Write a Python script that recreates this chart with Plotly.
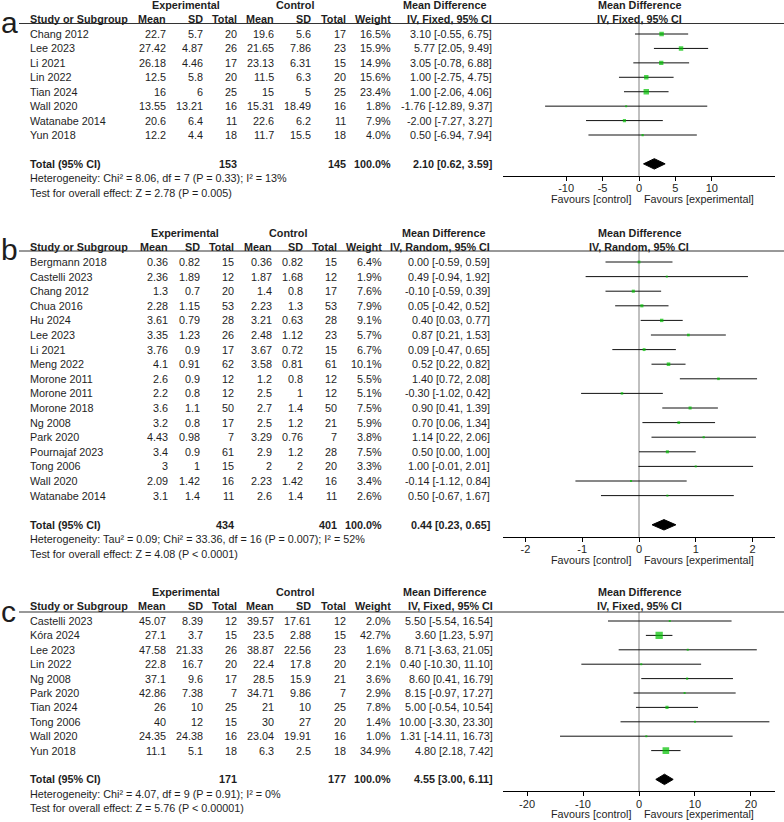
import plotly.graph_objects as go

W, H = 784, 822
FONT = "Liberation Sans, Arial, sans-serif"
TXT = "#1e1e1e"
GREEN = "#00c000"
FS = 10.8

# ---------------- Panel a (IV, Fixed) ----------------
a_study = ["Chang 2012", "Lee 2023", "Li 2021", "Lin 2022", "Tian 2024", "Wall 2020", "Watanabe 2014", "Yun 2018"]
a_exp_mean = [22.7, 27.42, 26.18, 12.5, 16, 13.55, 20.6, 12.2]
a_exp_sd = [5.7, 4.87, 4.46, 5.8, 6, 13.21, 6.4, 4.4]
a_exp_n = [20, 26, 17, 20, 25, 16, 11, 18]
a_ctl_mean = [19.6, 21.65, 23.13, 11.5, 15, 15.31, 22.6, 11.7]
a_ctl_sd = [5.6, 7.86, 6.31, 6.3, 5, 18.49, 6.2, 15.5]
a_ctl_n = [17, 23, 15, 20, 25, 16, 11, 18]
a_weight = [16.5, 15.9, 14.9, 15.6, 23.4, 1.8, 7.9, 4.0]
a_md = [3.10, 5.77, 3.05, 1.00, 1.00, -1.76, -2.00, 0.50]
a_lo = [-0.55, 2.05, -0.78, -2.75, -2.06, -12.89, -7.27, -6.94]
a_hi = [6.75, 9.49, 6.88, 4.75, 4.06, 9.37, 3.27, 7.94]
a_total = [153, 145, 2.10, 0.62, 3.59]
a_het = "Heterogeneity: Chi² = 8.06, df = 7 (P = 0.33); I² = 13%"
a_test = "Test for overall effect: Z = 2.78 (P = 0.005)"
a_method = "IV, Fixed, 95% CI"
a_ticks = [-10, -5, 0, 5, 10]

# ---------------- Panel b (IV, Random) ----------------
b_study = ["Bergmann 2018", "Castelli 2023", "Chang 2012", "Chua 2016", "Hu 2024", "Lee 2023", "Li 2021",
           "Meng 2022", "Morone 2011", "Morone 2011", "Morone 2018", "Ng 2008", "Park 2020",
           "Pournajaf 2023", "Tong 2006", "Wall 2020", "Watanabe 2014"]
b_exp_mean = [0.36, 2.36, 1.3, 2.28, 3.61, 3.35, 3.76, 4.1, 2.6, 2.2, 3.6, 3.2, 4.43, 3.4, 3, 2.09, 3.1]
b_exp_sd = [0.82, 1.89, 0.7, 1.15, 0.79, 1.23, 0.9, 0.91, 0.9, 0.8, 1.1, 0.8, 0.98, 0.9, 1, 1.42, 1.4]
b_exp_n = [15, 12, 20, 53, 28, 26, 17, 62, 12, 12, 50, 17, 7, 61, 15, 16, 11]
b_ctl_mean = [0.36, 1.87, 1.4, 2.23, 3.21, 2.48, 3.67, 3.58, 1.2, 2.5, 2.7, 2.5, 3.29, 2.9, 2, 2.23, 2.6]
b_ctl_sd = [0.82, 1.68, 0.8, 1.3, 0.63, 1.12, 0.72, 0.81, 0.8, 1, 1.4, 1.2, 0.76, 1.2, 2, 1.42, 1.4]
b_ctl_n = [15, 12, 17, 53, 28, 23, 15, 61, 12, 12, 50, 21, 7, 28, 20, 16, 11]
b_weight = [6.4, 1.9, 7.6, 7.9, 9.1, 5.7, 6.7, 10.1, 5.5, 5.1, 7.5, 5.9, 3.8, 7.5, 3.3, 3.4, 2.6]
b_md = [0.00, 0.49, -0.10, 0.05, 0.40, 0.87, 0.09, 0.52, 1.40, -0.30, 0.90, 0.70, 1.14, 0.50, 1.00, -0.14, 0.50]
b_lo = [-0.59, -0.94, -0.59, -0.42, 0.03, 0.21, -0.47, 0.22, 0.72, -1.02, 0.41, 0.06, 0.22, 0.00, -0.01, -1.12, -0.67]
b_hi = [0.59, 1.92, 0.39, 0.52, 0.77, 1.53, 0.65, 0.82, 2.08, 0.42, 1.39, 1.34, 2.06, 1.00, 2.01, 0.84, 1.67]
b_total = [434, 401, 0.44, 0.23, 0.65]
b_het = "Heterogeneity: Tau² = 0.09; Chi² = 33.36, df = 16 (P = 0.007); I² = 52%"
b_test = "Test for overall effect: Z = 4.08 (P < 0.0001)"
b_method = "IV, Random, 95% CI"
b_ticks = [-2, -1, 0, 1, 2]

# ---------------- Panel c (IV, Fixed) ----------------
c_study = ["Castelli 2023", "Kóra 2024", "Lee 2023", "Lin 2022", "Ng 2008", "Park 2020", "Tian 2024",
           "Tong 2006", "Wall 2020", "Yun 2018"]
c_exp_mean = [45.07, 27.1, 47.58, 22.8, 37.1, 42.86, 26, 40, 24.35, 11.1]
c_exp_sd = [8.39, 3.7, 21.33, 16.7, 9.6, 7.38, 10, 12, 24.38, 5.1]
c_exp_n = [12, 15, 26, 20, 17, 7, 25, 15, 16, 18]
c_ctl_mean = [39.57, 23.5, 38.87, 22.4, 28.5, 34.71, 21, 30, 23.04, 6.3]
c_ctl_sd = [17.61, 2.88, 22.56, 17.8, 15.9, 9.86, 10, 27, 19.91, 2.5]
c_ctl_n = [12, 15, 23, 20, 21, 7, 25, 20, 16, 18]
c_weight = [2.0, 42.7, 1.6, 2.1, 3.6, 2.9, 7.8, 1.4, 1.0, 34.9]
c_md = [5.50, 3.60, 8.71, 0.40, 8.60, 8.15, 5.00, 10.00, 1.31, 4.80]
c_lo = [-5.54, 1.23, -3.63, -10.30, 0.41, -0.97, -0.54, -3.30, -14.11, 2.18]
c_hi = [16.54, 5.97, 21.05, 11.10, 16.79, 17.27, 10.54, 23.30, 16.73, 7.42]
c_total = [171, 177, 4.55, 3.00, 6.11]
c_het = "Heterogeneity: Chi² = 4.07, df = 9 (P = 0.91); I² = 0%"
c_test = "Test for overall effect: Z = 5.76 (P < 0.00001)"
c_method = "IV, Fixed, 95% CI"
c_ticks = [-20, -10, 0, 10, 20]

panels = [
    dict(letter="a", study=a_study, em=a_exp_mean, es=a_exp_sd, en=a_exp_n, cm=a_ctl_mean, cs=a_ctl_sd,
         cn=a_ctl_n, w=a_weight, md=a_md, lo=a_lo, hi=a_hi, tot=a_total, het=a_het, test=a_test,
         method=a_method, ticks=a_ticks,
         r0=34, dy=14.43, rule=23.5, cols=[168, 205, 239, 276, 313, 348, 393], mdr=494,
         expc=186, ctlc=295, mdc=444, half=18.67),
    dict(letter="b", study=b_study, em=b_exp_mean, es=b_exp_sd, en=b_exp_n, cm=b_ctl_mean, cs=b_ctl_sd,
         cn=b_ctl_n, w=b_weight, md=b_md, lo=b_lo, hi=b_hi, tot=b_total, het=b_het, test=b_test,
         method=b_method, ticks=b_ticks,
         r0=262, dy=14.6, rule=251, cols=[170, 202, 236, 274, 305, 339, 384], mdr=492,
         expc=184.5, ctlc=288, mdc=443, half=2.396),
    dict(letter="c", study=c_study, em=c_exp_mean, es=c_exp_sd, en=c_exp_n, cm=c_ctl_mean, cs=c_ctl_sd,
         cn=c_ctl_n, w=c_weight, md=c_md, lo=c_lo, hi=c_hi, tot=c_total, het=c_het, test=c_test,
         method=c_method, ticks=c_ticks,
         r0=621, dy=14.4, rule=612, cols=[168, 205, 239, 276, 313, 348, 393], mdr=495,
         expc=186, ctlc=295, mdc=444, half=24.3),
]

PLOT_L, PLOT_R = 503, 775

fig = go.Figure()
annotations = []
shapes = []
layout_axes = {}


def py(px):
    return 1 - px / H


def ann(text, xpx, ypx, anchor="left", bold=False, size=FS, **kw):
    annotations.append(dict(
        text=f"<b>{text}</b>" if bold else text, x=xpx / W, y=py(ypx), xref="paper", yref="paper",
        xanchor=anchor, yanchor="middle", showarrow=False,
        font=dict(family=FONT, size=size, color=TXT), **kw))


def fmt(v):
    return f"{v:g}"


for k, p in enumerate(panels, start=1):
    sfx = "" if k == 1 else str(k)
    n = len(p["study"])
    r0, dy = p["r0"], p["dy"]
    rowpx = lambda r: r0 + r * dy
    total_px = rowpx(n + 1)
    axis_px = total_px + 12
    # headers
    ann("Experimental", p["expc"], rowpx(-2), "center", bold=True)
    ann("Control", p["ctlc"], rowpx(-2), "center", bold=True)
    ann("Mean Difference", p["mdc"], rowpx(-2), "center", bold=True)
    ann("Mean Difference", 639, rowpx(-2), "center", bold=True)
    hy = rowpx(-1.05)
    ann("Study or Subgroup", 28, hy, "left", bold=True)
    for txt, cx in zip(["Mean", "SD", "Total", "Mean", "SD", "Total", "Weight"], p["cols"]):
        ann(txt, cx, hy, "right", bold=True)
    ann(p["method"], p["mdr"], hy, "right", bold=True)
    ann(p["method"], 639, hy, "center", bold=True)
    ann(p["letter"], -1, p["rule"] - 1, "left", size=30)
    shapes.append(dict(type="line", xref="paper", yref="paper", x0=19 / W, x1=1,
                       y0=py(p["rule"]), y1=py(p["rule"]), line=dict(color="#333", width=1)))
    # rows
    for i in range(n):
        y = rowpx(i)
        ann(p["study"][i], 28, y, "left")
        vals = [fmt(p["em"][i]), fmt(p["es"][i]), str(p["en"][i]), fmt(p["cm"][i]), fmt(p["cs"][i]),
                str(p["cn"][i]), f"{p['w'][i]:.1f}%"]
        for v, cx in zip(vals, p["cols"]):
            ann(v, cx, y, "right")
        ann(f"{p['md'][i]:.2f} [{p['lo'][i]:.2f}, {p['hi'][i]:.2f}]", p["mdr"], y, "right")
    # total
    tn_e, tn_c, t_md, t_lo, t_hi = p["tot"]
    ann("Total (95% CI)", 28, total_px, "left", bold=True)
    ann(str(tn_e), p["cols"][2], total_px, "right", bold=True)
    ann(str(tn_c), p["cols"][5], total_px, "right", bold=True)
    ann("100.0%", p["cols"][6], total_px, "right", bold=True)
    ann(f"{t_md:.2f} [{t_lo:.2f}, {t_hi:.2f}]", p["mdr"], total_px, "right", bold=True)
    ann(p["het"], 28, rowpx(n + 2), "left")
    ann(p["test"], 28, rowpx(n + 3), "left")

    # axes
    top_px, bot_px = p["rule"], axis_px
    xa = "x" + sfx
    ya = "y" + sfx
    layout_axes["xaxis" + sfx] = dict(
        domain=[PLOT_L / W, PLOT_R / W], range=[-p["half"], p["half"]], anchor=ya,
        tickvals=p["ticks"], ticktext=[fmt(t) for t in p["ticks"]],
        showline=True, linecolor="black", linewidth=1, ticks="outside", ticklen=4,
        tickcolor="black", showgrid=False, zeroline=False, ticklabelstandoff=-2,
        tickfont=dict(family=FONT, size=11, color=TXT), fixedrange=True)
    layout_axes["yaxis" + sfx] = dict(
        domain=[py(bot_px), py(top_px)], range=[(bot_px - r0) / dy, (top_px - r0) / dy],
        anchor=xa, visible=False, showgrid=False, zeroline=False, fixedrange=True)
    # zero line
    shapes.append(dict(type="line", xref=xa, yref=ya + " domain", x0=0, x1=0, y0=0, y1=1,
                       line=dict(color="#808080", width=1), layer="below"))
    # CI lines
    xs, ys = [], []
    for i in range(n):
        xs += [p["lo"][i], p["hi"][i], None]
        ys += [i, i, None]
    fig.add_trace(go.Scatter(x=xs, y=ys, mode="lines", line=dict(color="#111", width=1),
                             xaxis=xa, yaxis=ya, hoverinfo="skip", showlegend=False))
    # markers
    sizes = [max(2.0, 1.12 * (w ** 0.5)) for w in p["w"]]
    fig.add_trace(go.Scatter(x=p["md"], y=list(range(n)), mode="markers",
                             marker=dict(symbol="square", size=sizes, color=GREEN, line=dict(width=0)),
                             xaxis=xa, yaxis=ya, hoverinfo="skip", showlegend=False))
    # diamond
    h = 5.2 / dy
    t = n + 1
    fig.add_trace(go.Scatter(x=[t_lo, t_md, t_hi, t_md, t_lo], y=[t, t - h, t, t + h, t],
                             mode="lines", fill="toself", fillcolor="black",
                             line=dict(color="black", width=1), xaxis=xa, yaxis=ya,
                             hoverinfo="skip", showlegend=False))
    # favours
    fav_px = axis_px + 23
    annotations.append(dict(text="Favours [control]", x=0, xref=xa, y=py(fav_px), yref="paper",
                            xanchor="right", yanchor="middle", xshift=-6, showarrow=False,
                            font=dict(family=FONT, size=FS, color=TXT)))
    annotations.append(dict(text="Favours [experimental]", x=0, xref=xa, y=py(fav_px), yref="paper",
                            xanchor="left", yanchor="middle", xshift=3, showarrow=False,
                            font=dict(family=FONT, size=FS, color=TXT)))

fig.update_layout(
    width=W, height=H, margin=dict(l=0, r=0, t=0, b=0),
    paper_bgcolor="white", plot_bgcolor="white",
    annotations=annotations, shapes=shapes, showlegend=False,
    **layout_axes)

fig.write_html("out.html", config={"displayModeBar": False, "staticPlot": True},
               post_script="document.body.style.margin='0';document.body.style.overflow='hidden';")
